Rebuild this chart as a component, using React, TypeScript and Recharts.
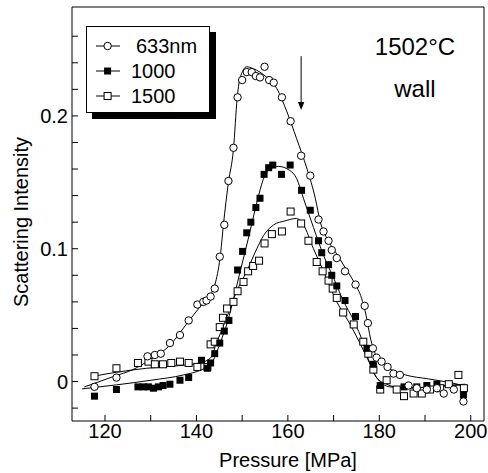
import React from 'react'
import {
  ComposedChart,
  Scatter,
  Line,
  XAxis,
  YAxis,
  ReferenceLine,
  ReferenceDot,
  Legend,
} from 'recharts'

// measured points (pressure in MPa, scattering intensity)
const pressure633 = [
  117.7, 122.5, 129.3, 130.9, 132.2, 134.2, 136.4, 138.3, 140.2, 141.5, 142.2, 143.1, 144.0,
  145.1, 146.1, 147.0, 148.1, 149.0, 150.0, 151.0, 152.1, 153.0, 153.9, 154.9, 155.9, 156.9,
  158.7, 160.6, 162.9, 164.9, 166.7, 167.8, 168.9, 169.6, 170.7, 172.5, 174.8, 176.8, 177.5,
  178.6, 179.4, 180.5, 181.8, 183.1, 184.5, 186.4, 188.2, 190.4, 192.6, 194.1, 196.3, 198.4,
]
const intensity633 = [
  -0.004, 0.003, 0.019, 0.02, 0.021, 0.029, 0.035, 0.046, 0.058, 0.06, 0.061, 0.064, 0.07,
  0.094, 0.118, 0.151, 0.176, 0.214, 0.227, 0.233, 0.233, 0.23, 0.229, 0.237, 0.227, 0.225,
  0.214, 0.196, 0.17, 0.155, 0.122, 0.113, 0.106, 0.099, 0.093, 0.083, 0.073, 0.057, 0.044,
  0.025, 0.018, 0.015, 0.011, 0.006, 0.005, -0.003, -0.005, -0.006, -0.005, -0.009, -0.006, -0.015,
]

const pressure1000 = [
  117.7, 122.5, 127.2, 128.4, 129.5, 130.6, 131.7, 132.7, 134.2, 136.4, 138.3, 141.1, 142.4,
  143.1, 144.0, 145.1, 146.1, 147.1, 149.0, 150.1, 151.0, 151.9, 153.0, 153.9, 154.8, 155.8,
  156.7, 158.6, 160.5, 163.0, 164.9, 166.7, 167.4, 168.9, 169.6, 170.7, 172.5, 174.8, 177.3,
  178.7, 180.2, 185.4, 188.2, 190.4, 192.6, 198.4,
]
const intensity1000 = [
  -0.011, -0.006, -0.004, -0.004, -0.004, -0.005, -0.004, -0.003, -0.002, 0.001, 0.003, 0.016, 0.01,
  0.014, 0.021, 0.029, 0.038, 0.046, 0.084, 0.098, 0.112, 0.12, 0.131, 0.138, 0.156, 0.161,
  0.163, 0.156, 0.163, 0.144, 0.129, 0.106, 0.097, 0.088, 0.08, 0.072, 0.061, 0.049, 0.025,
  0.013, -0.003, -0.004, -0.004, -0.003, -0.002, -0.01,
]

const pressure1500 = [
  117.7, 122.5, 127.2, 129.5, 130.9, 132.7, 134.5, 136.4, 138.3, 140.2, 142.4, 143.1, 144.0,
  145.1, 145.8, 146.7, 148.1, 149.0, 150.3, 151.3, 152.4, 153.7, 154.9, 156.5, 158.7, 160.6,
  162.9, 164.5, 166.3, 167.6, 168.9, 169.8, 170.7, 172.1, 174.4, 176.5, 177.6, 178.7, 180.2,
  181.6, 183.8, 185.4, 187.5, 189.3, 191.1, 193.3, 195.2, 197.3, 198.5,
]
const intensity1500 = [
  0.004, 0.01, 0.014, 0.015, 0.013, 0.013, 0.014, 0.015, 0.014, 0.011, 0.011, 0.028, 0.03,
  0.041, 0.048, 0.055, 0.06, 0.068, 0.075, 0.083, 0.087, 0.091, 0.104, 0.111, 0.113, 0.128,
  0.119, 0.106, 0.09, 0.083, 0.076, 0.07, 0.063, 0.052, 0.043, 0.03, 0.021, 0.009, -0.006,
  0.001, -0.006, -0.011, -0.009, -0.009, -0.006, -0.005, -0.002, 0.005, -0.005,
]

// fitted curves
const fitPressure633 = [
  115.5, 118, 122, 126.1, 130.1, 134.1, 138.2, 141.2, 143.2, 144.2, 145.3, 145.9, 147.0, 148.1,
  148.9, 149.5, 151.0, 152.4, 155.4, 157.6, 159.8, 161.9, 164.2, 166.0, 167.1, 168.5, 170.5,
  172.5, 174.6, 176.1, 177.1, 178.1, 179.1, 180.6, 182.6, 185.7, 190.7, 195.8, 198.4,
]
const fitIntensity633 = [
  -0.004, -0.001, 0.004, 0.009, 0.017, 0.027, 0.045, 0.058, 0.066, 0.075, 0.097, 0.118, 0.15,
  0.175, 0.213, 0.228, 0.237, 0.2356, 0.229, 0.2205, 0.203, 0.183, 0.16, 0.138, 0.12, 0.108,
  0.097, 0.086, 0.074, 0.063, 0.05, 0.032, 0.021, 0.014, 0.009, 0.005, 0.002, -0.001, -0.003,
]

const fitPressure1000 = [
  115, 122.5, 130.1, 137.2, 141.2, 143.2, 144.2, 145.3, 146.8, 148.3, 149.5, 151.3, 153.3,
  154.6, 156.1, 157.9, 160.4, 161.9, 163.4, 165.6, 167.8, 170.0, 172.1, 174.4, 176.6, 178.0,
  179.4, 181.6, 184.7, 188.7, 193.7, 198.8,
]
const fitIntensity1000 = [
  -0.0055, -0.0025, 0.001, 0.005, 0.009, 0.013, 0.02, 0.03, 0.045, 0.065, 0.082, 0.107, 0.136,
  0.152, 0.16, 0.162, 0.159, 0.153, 0.138, 0.116, 0.095, 0.078, 0.061, 0.046, 0.028, 0.013,
  0.003, -0.002, -0.0045, -0.0045, -0.003, -0.002,
]

const fitPressure1500 = [
  117.5, 122.5, 129.1, 136.2, 140.7, 143.0, 144.5, 146.6, 148.8, 151.0, 153.2, 154.7, 156.9,
  159.4, 161.9, 163.4, 165.6, 167.8, 170.7, 173.3, 175.6, 178.0, 179.4, 182.3, 186.7, 191.7, 198.4,
]
const fitIntensity1500 = [
  0.004, 0.007, 0.01, 0.012, 0.014, 0.0175, 0.03, 0.048, 0.068, 0.083, 0.1, 0.11, 0.118, 0.121,
  0.1228, 0.118, 0.1, 0.083, 0.06, 0.045, 0.03, 0.013, 0.003, -0.004, -0.005, -0.004, -0.0025,
]

const seriesNames = ['633nm', '1000', '1500']
const xTicks = [120, 130, 140, 150, 160, 170, 180, 190, 200]
const yTicks = [-0.02, 0, 0.02, 0.04, 0.06, 0.08, 0.1, 0.12, 0.14, 0.16, 0.18, 0.2, 0.22, 0.24, 0.26]
const yLabelled = [0, 0.1, 0.2]
const xDomain = [112.78, 202.9]
const yDomain = [-0.0297, 0.282]

// arrow marking the transition, and the text in the top right corner
const arrowPressure = 162.9
const arrowFrom = 0.245
const arrowTo = 0.2045
const notes = [
  { x: 187.8, y: 0.2525, text: '1502°C' },
  { x: 187.8, y: 0.2207, text: 'wall' },
]

const font = '"Liberation Sans", Arial, Helvetica, sans-serif'

const zip = (xs: number[], ys: number[]) => xs.map((x, i) => ({ x, y: ys[i] }))

const data633 = zip(pressure633, intensity633)
const data1000 = zip(pressure1000, intensity1000)
const data1500 = zip(pressure1500, intensity1500)
const fit633 = zip(fitPressure633, fitIntensity633)
const fit1000 = zip(fitPressure1000, fitIntensity1000)
const fit1500 = zip(fitPressure1500, fitIntensity1500)

const OpenCircle = (props: any) => (
  <circle cx={props.cx} cy={props.cy} r={3.7} fill="#fff" stroke="#000" strokeWidth={1} />
)
const FilledSquare = (props: any) => (
  <rect x={props.cx - 3.5} y={props.cy - 3.5} width={7} height={7} fill="#000" />
)
const OpenSquare = (props: any) => (
  <rect
    x={props.cx - 3.5}
    y={props.cy - 3.5}
    width={7}
    height={7}
    fill="#fff"
    stroke="#000"
    strokeWidth={1}
  />
)

const Arrow = (props: any) => {
  const { x1, y1, x2, y2 } = props
  const dir = y2 > y1 ? 1 : -1
  return (
    <g>
      <line x1={x1} y1={y1} x2={x2} y2={y2 - dir * 6} stroke="#000" strokeWidth={1} />
      <polygon
        points={`${x2},${y2} ${x2 - 3.2},${y2 - dir * 8} ${x2 + 3.2},${y2 - dir * 8}`}
        fill="#000"
      />
    </g>
  )
}

const LegendBox = () => {
  const markers = [
    <circle key="c" cx={21.6} cy={20} r={3.7} fill="#fff" stroke="#000" strokeWidth={1} />,
    <rect key="f" x={18.1} y={41.5} width={7} height={7} fill="#000" />,
    <rect key="o" x={18.1} y={66.5} width={7} height={7} fill="#fff" stroke="#000" strokeWidth={1} />,
  ]
  return (
    <div
      style={{
        width: 124,
        height: 87,
        boxSizing: 'border-box',
        border: '1px solid #000',
        background: '#fff',
        boxShadow: '6px 6px 0 #000',
      }}
    >
      <svg width={122} height={85} style={{ display: 'block' }}>
        {seriesNames.map((name, i) => (
          <g key={name}>
            <line x1={9} y1={19 + i * 25} x2={33} y2={19 + i * 25} stroke="#000" strokeWidth={1} />
            <text
              x={i === 0 ? 49 : 44}
              y={26 + i * 25}
              fontSize={20}
              fontFamily={font}
              fill="#000"
            >
              {name}
            </text>
          </g>
        ))}
        <g transform="translate(-1,-1)">{markers}</g>
      </svg>
    </div>
  )
}

const XTitle = (props: any) => {
  const vb = props.viewBox
  return (
    <text
      x={vb.x + vb.width / 2 + 10}
      y={vb.y + 46}
      textAnchor="middle"
      fontSize={20}
      fontFamily={font}
      fill="#000"
    >
      Pressure [MPa]
    </text>
  )
}

const YTitle = (props: any) => {
  const vb = props.viewBox
  const cx = 27.5
  const cy = vb.y + vb.height / 2 + 8
  return (
    <text
      x={cx}
      y={cy}
      transform={`rotate(-90, ${cx}, ${cy})`}
      textAnchor="middle"
      fontSize={20}
      fontFamily={font}
      fill="#000"
    >
      Scattering Intensity
    </text>
  )
}

const formatX = (v: number) => (v % 20 === 0 ? String(v) : '')
const formatY = (v: number) => {
  const hit = yLabelled.find((t) => Math.abs(t - v) < 1e-9)
  if (hit === undefined) return ''
  return hit === 0 ? '0' : hit.toFixed(1)
}

const tickStyle = { fill: '#000', fontSize: 20, fontFamily: font }

export default function App() {
  return (
    <div style={{ position: 'absolute', left: 0, top: 0, width: 488, height: 473, background: '#fff' }}>
      <ComposedChart width={488} height={473} margin={{ top: 6, right: 3, bottom: 0, left: 0 }}>
        <XAxis
          type="number"
          dataKey="x"
          domain={xDomain}
          allowDataOverflow
          ticks={xTicks}
          interval={0}
          tickFormatter={formatX}
          tickSize={-6}
          tickMargin={9}
          height={52}
          axisLine={{ stroke: '#000' }}
          tickLine={{ stroke: '#000' }}
          tick={tickStyle}
          label={XTitle}
        />
        <XAxis
          xAxisId="top"
          orientation="top"
          type="number"
          domain={xDomain}
          allowDataOverflow
          ticks={xTicks}
          interval={0}
          tickSize={-6}
          height={1}
          axisLine={{ stroke: '#000' }}
          tickLine={{ stroke: '#000' }}
          tick={false}
        />
        <YAxis
          type="number"
          dataKey="y"
          domain={yDomain}
          allowDataOverflow
          ticks={yTicks}
          interval={0}
          tickFormatter={formatY}
          tickSize={-6}
          tickMargin={10}
          width={72}
          axisLine={{ stroke: '#000' }}
          tickLine={{ stroke: '#000' }}
          tick={tickStyle}
          label={YTitle}
        />
        <YAxis
          yAxisId="right"
          orientation="right"
          type="number"
          domain={yDomain}
          allowDataOverflow
          ticks={yTicks}
          interval={0}
          tickSize={-6}
          width={1}
          axisLine={{ stroke: '#000' }}
          tickLine={{ stroke: '#000' }}
          tick={false}
        />
        <Legend
          layout="vertical"
          align="center"
          verticalAlign="middle"
          content={<LegendBox />}
          wrapperStyle={{ left: 86, top: 26, width: 'auto', height: 'auto' }}
        />
        <Scatter name={seriesNames[2]} data={data1500} dataKey="y" shape={OpenSquare} isAnimationActive={false} />
        <Scatter name={seriesNames[1]} data={data1000} dataKey="y" shape={FilledSquare} isAnimationActive={false} />
        <Scatter name={seriesNames[0]} data={data633} dataKey="y" shape={OpenCircle} isAnimationActive={false} />
        <Line data={fit1500} dataKey="y" type="monotone" stroke="#000" strokeWidth={1} dot={false} activeDot={false} legendType="none" isAnimationActive={false} />
        <Line data={fit1000} dataKey="y" type="monotone" stroke="#000" strokeWidth={1} dot={false} activeDot={false} legendType="none" isAnimationActive={false} />
        <Line data={fit633} dataKey="y" type="monotone" stroke="#000" strokeWidth={1} dot={false} activeDot={false} legendType="none" isAnimationActive={false} />
        <ReferenceLine
          segment={[
            { x: arrowPressure, y: arrowFrom },
            { x: arrowPressure, y: arrowTo },
          ]}
          shape={Arrow}
        />
        {notes.map((n) => (
          <ReferenceDot
            key={n.text}
            x={n.x}
            y={n.y}
            shape={(p: any) => (
              <text
                x={p.cx}
                y={p.cy + 8.6}
                textAnchor="middle"
                fontSize={24}
                fontFamily={font}
                fill="#000"
              >
                {n.text}
              </text>
            )}
          />
        ))}
      </ComposedChart>
    </div>
  )
}
